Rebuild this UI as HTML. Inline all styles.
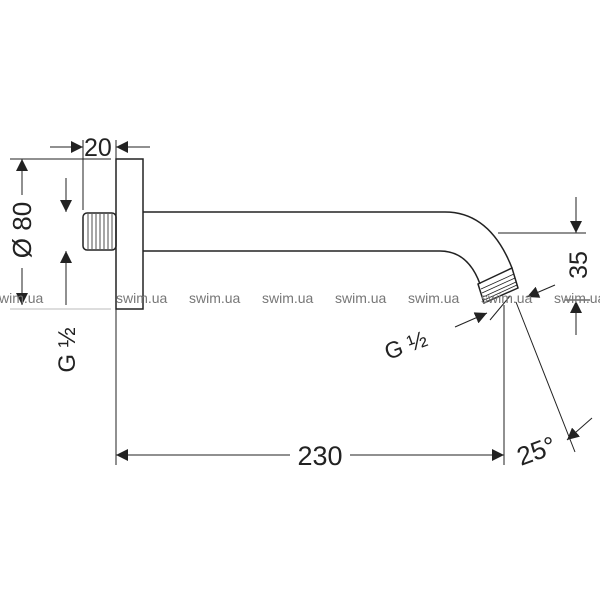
<!DOCTYPE html>
<html><head><style>body{margin:0;background:#fff}svg{display:block}text{font-family:"Liberation Sans",sans-serif;fill:#222}</style></head><body>
<svg width="600" height="600" viewBox="0 0 600 600" xmlns="http://www.w3.org/2000/svg">
<defs><marker id="a" viewBox="0 0 10 10" refX="10" refY="5" markerWidth="12" markerHeight="12" markerUnits="userSpaceOnUse" orient="auto"><path d="M0,0L10,5L0,10z" fill="#222"/></marker></defs>
<g stroke="#222" fill="none" stroke-width="1.5">
<rect x="116" y="159" width="27" height="150"/>
<path d="M143 212H445Q490 212 512 268M143 251H440Q468 251 480 284"/>
<path d="M478 284L512 268L518 288L484 303Z"/>
<path d="M481 289L514 274M482 293L515 278M483 297L516 282M484 300L517 285" stroke-width="0.8"/>
<rect x="83" y="213" width="33" height="37" rx="4"/>
<path d="M88 214V249M92 214V249M96 214V249M100 214V249M104 214V249M108 214V249M112 214V249" stroke-width="0.8"/>
</g>
<g stroke="#222" stroke-width="1" fill="none">
<path d="M10 159H111M83 140V210M116 140V159M116 309V465M504 305V465M498 233H586M516 302L575 452M510 296L490 320M565 300H590"/>
<path d="M22 195V159" marker-end="url(#a)"/><path d="M22 268V305" marker-end="url(#a)"/>
<path d="M66 178V212" marker-end="url(#a)"/><path d="M66 285V251" marker-end="url(#a)"/><path d="M66 285V305"/>
<path d="M50 147H83" marker-end="url(#a)"/><path d="M150 147H116" marker-end="url(#a)"/>
<path d="M290 455H116" marker-end="url(#a)"/><path d="M350 455H504" marker-end="url(#a)"/>
<path d="M576 197V233" marker-end="url(#a)"/><path d="M576 335V301" marker-end="url(#a)"/>
<path d="M455 327L487 313" marker-end="url(#a)"/><path d="M555 285L527 297" marker-end="url(#a)"/>
<path d="M592 418L567 440" marker-end="url(#a)"/>
</g>
<path d="M10 309H111" stroke="#bbb"/>
<text x="84" y="156" font-size="25">20</text>
<text transform="translate(31,230) rotate(-90)" font-size="26" text-anchor="middle">Ø 80</text>
<text transform="translate(75,350) rotate(-90)" font-size="24" text-anchor="middle">G ½</text>
<text x="320" y="465" font-size="27" text-anchor="middle">230</text>
<text transform="translate(587,265) rotate(-90)" font-size="25" text-anchor="middle">35</text>
<text transform="translate(388,360) rotate(-20)" font-size="23">G ½</text>
<text transform="translate(521,466) rotate(-20)" font-size="26">25°</text>
<g font-size="14">
<text x="-8" y="303" style="fill:#777">swim.ua</text><text x="116" y="303" style="fill:#777">swim.ua</text><text x="189" y="303" style="fill:#777">swim.ua</text><text x="262" y="303" style="fill:#777">swim.ua</text><text x="335" y="303" style="fill:#777">swim.ua</text><text x="408" y="303" style="fill:#777">swim.ua</text><text x="481" y="303" style="fill:#777">swim.ua</text><text x="554" y="303" style="fill:#777">swim.ua</text>
</g>
</svg>
</body></html>
